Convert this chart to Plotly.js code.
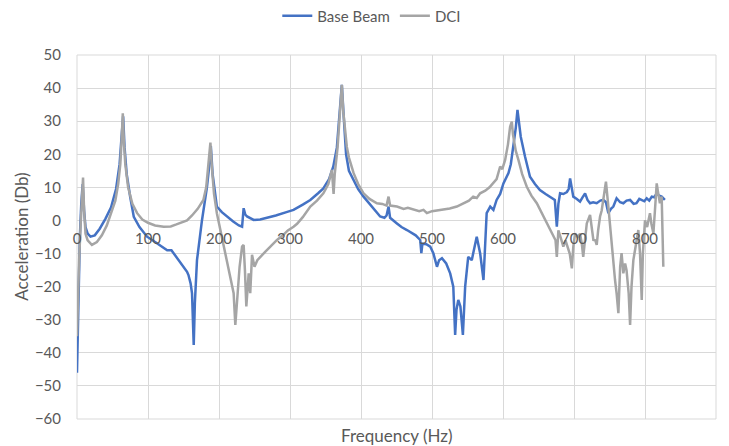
<!DOCTYPE html>
<html>
<head>
<meta charset="utf-8">
<script src="https://cdn.plot.ly/plotly-3.0.1.min.js"></script>
<style>html,body{margin:0;padding:0;background:#fff;}#chart{width:729px;height:446px;}</style>
</head>
<body>
<div id="chart"></div>
<script>
// Base Beam series
const baseFreq = [0,1,2,4,6,8,10,12,15,19,25,32,40,48,55,60,63,65,67,70,75,80,88,98.7,110,120,127,133,140,150,155,157,160,162,163.5,164.4,166,169,176,183,186,188.5,191,197,204,211,220,228,232.5,234.7,237,239.5,248.8,258,267.6,280,295,305,318,328.6,340,347,355,361,366,370,373,375.5,379,383,389.6,396,403.6,412,420,427,433,436,438.8,441,450.6,457,464.7,470,477,483.4,485,486.5,492,497.5,502,507,510,514,520,525.6,530,532.6,534.5,537,540,543.5,546.7,551,556,563,567.8,572.5,577,582,586.5,591,596,600.6,607.7,611,614.7,618,620.4,623,625,631,638,645,652,660,666,673,675.8,678,680.4,685,690,692.5,694.5,697,699,704,708.5,712,715.6,719,722.6,727,732,737,741.4,745,748.4,752,755.4,760,765,769.5,774,779,784,788,792,795,799,802.4,806,809.5,813,816.5,820,823.5,826,828];
const baseDb = [-46,-35,-20,-5,5,11,3,-2,-4,-4.9,-4.5,-2.5,0.5,4,9.5,17,26,31.5,22,14,7,1.1,-2,-4.9,-6.5,-8,-9,-9,-11,-14,-15.5,-16.5,-19,-22,-30,-37.6,-25,-12,0,10,16,22.5,14,4.2,2.5,1.2,-0.3,-1.5,-1.9,3.7,1.8,1.2,0.15,0.3,0.8,1.5,2.5,3.2,4.8,6.2,8.3,9.7,12.5,16.3,22,32,41,32,20,15,12.2,9.5,7.2,5,3,1.2,0.8,1.5,4.2,0.8,-0.9,-2,-2.9,-3.5,-4.5,-5.9,-9.9,-7,-7.2,-7.9,-10,-14,-12,-11.4,-13,-16,-20,-34.6,-27,-24,-26,-34.6,-20,-11,-12,-4.9,-9.9,-18,2.2,4.2,3.2,6.2,8,11.2,14.3,17,22.3,28,33.4,29,25.3,19.3,13.2,11,9.2,8,7.2,6.2,-1.9,5,8.2,8,8.6,9.5,12.7,9,7.2,6.5,5.7,7,8.2,6.2,5.2,5.5,5.2,6,6.2,5.5,2.2,3.5,4.2,6.7,5.5,5.2,6,6.2,5,5.2,6.5,6.2,5.8,6.7,6,7.2,7,8.2,7.5,7.2,6.5,6.2];

// DCI series
const dciFreq = [0,1.5,3,5,7,8.5,10,12,15,21,28,35,42,48,54,58,61,63,64.5,66,68,72,78,84.7,92,100,110,122,132,140,148,155,162,170,178,182,185.5,187.9,190,193,197,204,211,215,220.6,223,226,229,232.5,234.7,236.5,238.5,241.8,244,246.5,250,254,258,265,272,281.7,290,297,305,310,318,328.6,338,347,354,359,361.4,363,367,371,373,375,378,380,383,389.6,396,403.6,412,422.4,430,436,438.8,441,450.6,460,466,474,482,488,492.8,500,508,516,525,535,544,552,558,563,567.8,575,581,586.5,591,596,599,603,607,610,612.4,614,615.7,618,621.7,627,633.5,640,647.6,655,661.7,666,671,674,675.8,678,681,685,688,690,694,697,699,701.5,705,708.5,711,713,716,718,722.6,725,727.3,730,732,734,736.7,739,741.4,745,748.4,751,753,755.5,757.8,760,762.5,765,767,769.5,772,774,777,779,781,783.6,787,790.6,793,795.4,797,800,803,807,809,811.8,814,816.5,818,821,823.5,825.8];
const dciDb = [-35,-22,-12,-2,9,13,3,-4,-6,-7.4,-6.5,-4.5,-1.5,2,6,11,17,25,32.4,24,17,10,5,2.2,0.3,-0.7,-1.5,-1.9,-1.8,-1.2,-0.5,0,1.5,3.5,6.2,10,18,23.5,16,8,2.2,-5,-12,-16,-22,-31.6,-22,-14,-7.9,-7.4,-15,-26,-16,-22,-10.4,-14,-12,-11,-9.5,-8,-5.9,-4.5,-3,-1.9,-1,1,4.2,6,8.2,11,15.3,8,14,22,33,41,33,25,22.3,19,14.3,11,8.2,6.5,5.2,5,4.5,7.2,4.5,4.2,3.5,3.8,3.2,2.8,3.2,2.2,2.8,3,3.2,3.6,4.2,5.2,6,7.2,6.8,8.2,9,10,11.2,12.5,16.3,15.5,18.3,23,28.3,29.9,26,23.3,21,18.3,14,10.2,7.5,5.2,2,-0.9,-2.5,-4.9,-6,-11,-3,-5,-7.9,-6,-7.4,-10,-14.5,-8,-3.9,-5,-4,-7,-11,-4,-0.9,1.7,-2,-5.9,-6,-7.4,-3,1.2,3,6.2,11.7,4.2,-2,-7.9,-12,-18,-22,-28,-14,-9.9,-16,-13,-15,-22,-31.6,-20,-12,-8,-2.9,-10,-24,-10,0,-2,2.2,-1,-3.9,3,11.2,9,5.2,7.2,-14];

const seriesNames = ['Base Beam', 'DCI'];
const xTickVals = [0,100,200,300,400,500,600,700,800,900];
const yTickVals = [-60,-50,-40,-30,-20,-10,0,10,20,30,40,50];

const FONT = 'Lato, "Open Sans", sans-serif';
const TXT = '#595959';
const GRID = '#D9D9D9';

const traces = [
  {x: baseFreq, y: baseDb, name: seriesNames[0], type: 'scatter', mode: 'lines',
   line: {color: '#4472C4', width: 2.5}},
  {x: dciFreq, y: dciDb, name: seriesNames[1], type: 'scatter', mode: 'lines',
   line: {color: '#A5A5A5', width: 2.5}}
];

const layout = {
  width: 729, height: 446,
  margin: {l: 77, r: 13, t: 55, b: 27, autoexpand: false},
  paper_bgcolor: '#fff', plot_bgcolor: '#fff',
  font: {family: FONT, size: 12, color: TXT},
  showlegend: true,
  legend: {orientation: 'h', xref: 'container', x: 0.51, xanchor: 'center',
           yref: 'container', y: 1 - 16/446, yanchor: 'middle',
           font: {family: FONT, size: 15, color: TXT}, bgcolor: 'rgba(0,0,0,0)'},
  xaxis: {range: [0, 900], tickvals: xTickVals, showgrid: true, gridcolor: GRID, gridwidth: 1,
          zeroline: false, showline: false, anchor: 'free', position: 60/110,
          ticks: '', ticklabelstandoff: 8, tickfont: {family: FONT, size: 15, color: TXT}, fixedrange: true},
  yaxis: {range: [-60, 50], tickvals: yTickVals, showgrid: true, gridcolor: GRID, gridwidth: 1,
          zeroline: false, showline: false, ticks: '', ticklabelstandoff: 15,
          tickfont: {family: FONT, size: 15, color: TXT}, fixedrange: true},
  shapes: [{type: 'rect', xref: 'paper', yref: 'paper', x0: 0, x1: 1, y0: 0, y1: 1,
            line: {color: GRID, width: 1}, fillcolor: 'rgba(0,0,0,0)', layer: 'below'}],
  annotations: [
    {text: 'Frequency (Hz)', xref: 'paper', yref: 'paper', x: 0.5, y: 0, xanchor: 'center', yanchor: 'top',
     yshift: -4, showarrow: false, font: {family: FONT, size: 17, color: TXT}},
    {text: 'Acceleration (Db)', xref: 'paper', yref: 'paper', x: -0.088, y: 0.5, xanchor: 'center', yanchor: 'middle',
     textangle: -90, showarrow: false, font: {family: FONT, size: 17, color: TXT}}
  ]
};

Plotly.newPlot('chart', traces, layout, {displayModeBar: false, staticPlot: true});
</script>
</body>
</html>
